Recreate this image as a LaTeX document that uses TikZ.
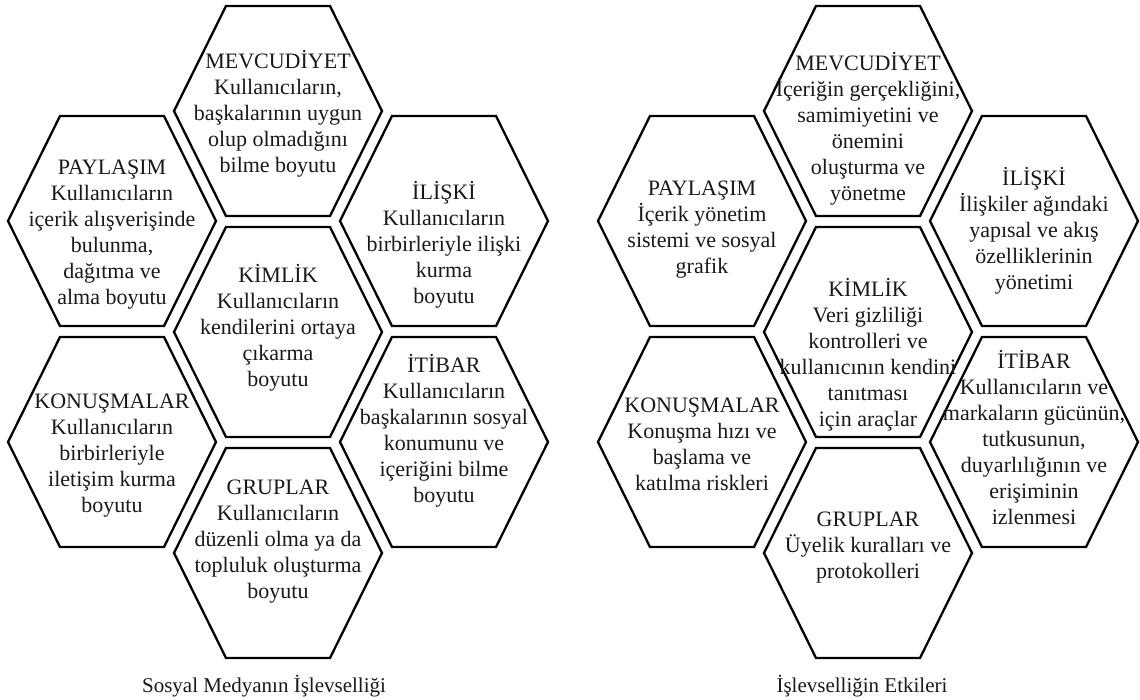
\documentclass[tikz,border=0pt]{standalone}
\usepackage{fontspec}
\setmainfont{Liberation Serif}
\tikzset{
  hexline/.style={draw=black, line width=2.3pt, line join=miter},
  txt/.style={align=center, font=\fontsize{22}{26}\selectfont, inner sep=0pt, text=black!90},
  captxt/.style={font=\fontsize{21}{25}\selectfont, inner sep=0pt, text=black!90}
}
\newcommand\hexcell[2]{\draw[hexline, shift={(#1,#2)}] (-104,0) -- (-52,-105) -- (52,-105) -- (104,0) -- (52,105) -- (-52,105) -- cycle;}
\begin{document}
\begin{tikzpicture}[x=1pt,y=-1pt]
\useasboundingbox (0,0) rectangle (1140,700);
% ---------- left cluster ----------
\hexcell{278}{111}
\hexcell{278}{332}
\hexcell{278}{553}
\hexcell{112}{221}
\hexcell{112}{442}
\hexcell{444}{221}
\hexcell{444}{442}
\node[txt] (lmev) at (278,114) {MEVCUDİYET\\Kullanıcıların,\\başkalarının uygun\\olup olmadığını\\bilme boyutu};
\node[txt] (lpay) at (112,235) {PAYLAŞIM\\Kullanıcıların\\içerik alışverişinde\\bulunma,\\dağıtma ve\\alma boyutu};
\node[txt] (lili) at (444,245) {İLİŞKİ\\Kullanıcıların\\birbirleriyle ilişki\\kurma\\boyutu};
\node[txt] (lkim) at (278,328) {KİMLİK\\Kullanıcıların\\kendilerini ortaya\\çıkarma\\boyutu};
\node[txt] (lkon) at (112,456) {KONUŞMALAR\\Kullanıcıların\\birbirleriyle\\iletişim kurma\\boyutu};
\node[txt] (liti) at (444,431) {İTİBAR\\Kullanıcıların\\başkalarının sosyal\\konumunu ve\\içeriğini bilme\\boyutu};
\node[txt] (lgru) at (278,542) {GRUPLAR\\Kullanıcıların\\düzenli olma ya da\\topluluk oluşturma\\boyutu};
\node[captxt] (lcap) at (264,686) {Sosyal Medyanın İşlevselliği};
% ---------- right cluster ----------
\hexcell{868}{111}
\hexcell{868}{332}
\hexcell{868}{553}
\hexcell{702}{221}
\hexcell{702}{442}
\hexcell{1034}{221}
\hexcell{1034}{442}
\node[txt] (rmev) at (868,129) {MEVCUDİYET\\İçeriğin gerçekliğini,\\samimiyetini ve\\önemini\\oluşturma ve\\yönetme};
\node[txt] (rpay) at (702,230) {PAYLAŞIM\\İçerik yönetim\\sistemi ve sosyal\\grafik};
\node[txt] (rili) at (1034,231) {İLİŞKİ\\İlişkiler ağındaki\\yapısal ve akış\\özelliklerinin\\yönetimi};
\node[txt] (rkim) at (868,355) {KİMLİK\\Veri gizliliği\\kontrolleri ve\\kullanıcının kendini\\tanıtması\\için araçlar};
\node[txt] (rkon) at (702,444) {KONUŞMALAR\\Konuşma hızı ve\\başlama ve\\katılma riskleri};
\node[txt] (riti) at (1034,438) {İTİBAR\\Kullanıcıların ve\\markaların gücünün,\\tutkusunun,\\duyarlılığının ve\\erişiminin\\izlenmesi};
\node[txt] (rgru) at (868,548) {GRUPLAR\\Üyelik kuralları ve\\protokolleri};
\node[captxt] (rcap) at (862,686) {İşlevselliğin Etkileri};
\end{tikzpicture}
\end{document}
